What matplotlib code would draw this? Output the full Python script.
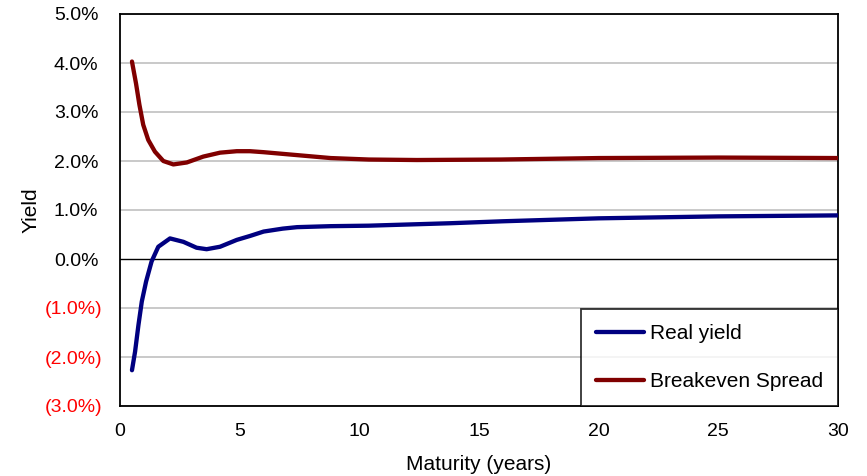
import matplotlib
matplotlib.use("Agg")
import matplotlib.pyplot as plt
from matplotlib.transforms import ScaledTranslation

plt.rcParams['font.family'] = ['Liberation Sans', 'DejaVu Sans']

# Breakeven spread curve (maturity in years, yield in %)
breakeven_maturity = [0.5, 0.67, 0.81, 0.97, 1.18, 1.46, 1.81, 2.23, 2.79, 3.48, 4.18,
                      4.88, 5.43, 6.0, 7.4, 8.8, 10.4, 12.4, 15.9, 20.0, 25.0, 30.0]
breakeven_yield = [4.03, 3.58, 3.15, 2.74, 2.43, 2.19, 2.00, 1.93, 1.97, 2.09, 2.17,
                   2.20, 2.20, 2.18, 2.12, 2.06, 2.03, 2.02, 2.03, 2.06, 2.07, 2.06]

# Real yield curve (maturity in years, yield in %)
real_maturity = [0.5, 0.63, 0.77, 0.91, 1.09, 1.32, 1.6, 2.09, 2.65, 3.2, 3.62, 4.18,
                 4.88, 5.43, 6.0, 6.8, 7.4, 8.8, 10.4, 13.8, 16.0, 20.0, 25.0, 30.0]
real_yield = [-2.27, -1.89, -1.35, -0.87, -0.46, -0.05, 0.25, 0.42, 0.35, 0.23, 0.20, 0.25,
              0.39, 0.47, 0.56, 0.62, 0.65, 0.67, 0.68, 0.73, 0.77, 0.83, 0.87, 0.89]

y_ticks = [-3, -2, -1, 0, 1, 2, 3, 4, 5]
x_ticks = [0, 5, 10, 15, 20, 25, 30]

series_labels = ["Real yield", "Breakeven Spread"]
colors = ["#000080", "#800000"]

TICK_FS = 14
LABEL_FS = 15

fig = plt.figure(figsize=(8.67, 4.76), dpi=100)
ax = fig.add_axes([120 / 867, 70 / 476, 718 / 867, 392 / 476])

ax.set_xlim(0, 30)
ax.set_ylim(-3, 5)

# Horizontal gridlines, with a black zero line
for v in y_ticks:
    if v == 0:
        ax.axhline(0, color="black", linewidth=1.0, zorder=1)
    else:
        ax.axhline(v, color="#c0c0c0", linewidth=1.2, zorder=1)

ax.plot(real_maturity, real_yield, color=colors[0], linewidth=3.1,
        solid_capstyle="round", solid_joinstyle="round", label=series_labels[0], zorder=3)
ax.plot(breakeven_maturity, breakeven_yield, color=colors[1], linewidth=3.1,
        solid_capstyle="round", solid_joinstyle="round", label=series_labels[1], zorder=3)

for s in ax.spines.values():
    s.set_color("black")
    s.set_linewidth(1.3)

ax.set_xticks(x_ticks)
ax.set_xticklabels([str(t) for t in x_ticks])
ax.set_yticks(y_ticks)
ylabels = [f"{v:.1f}%" if v >= 0 else f"({abs(v):.1f}%)" for v in y_ticks]
ax.set_yticklabels(ylabels)
ax.tick_params(axis="both", length=0, labelsize=TICK_FS)
ax.tick_params(axis="y", pad=12.5)
ax.tick_params(axis="x", pad=12)

# Negative values in red; positive values leave room for the closing parenthesis
for lab, v in zip(ax.get_yticklabels(), y_ticks):
    if v < 0:
        lab.set_color("red")
    else:
        lab.set_transform(lab.get_transform() +
                          ScaledTranslation(-3.0 / 72, 0, fig.dpi_scale_trans))

ax.set_xlabel("Maturity (years)", fontsize=LABEL_FS, labelpad=11)
ax.set_ylabel("Yield", fontsize=LABEL_FS, labelpad=3)

leg = ax.legend(loc="lower right", bbox_to_anchor=(1.0, 0.0), borderaxespad=0,
                fontsize=LABEL_FS, frameon=True, fancybox=False, edgecolor="black",
                handlelength=2.3, handletextpad=0.3, labelspacing=1.39,
                borderpad=0.72)
leg.get_frame().set_linewidth(1.3)
for h in leg.get_lines():
    h.set_linewidth(3.1)

fig.savefig("out.png", dpi=100, facecolor="white")
